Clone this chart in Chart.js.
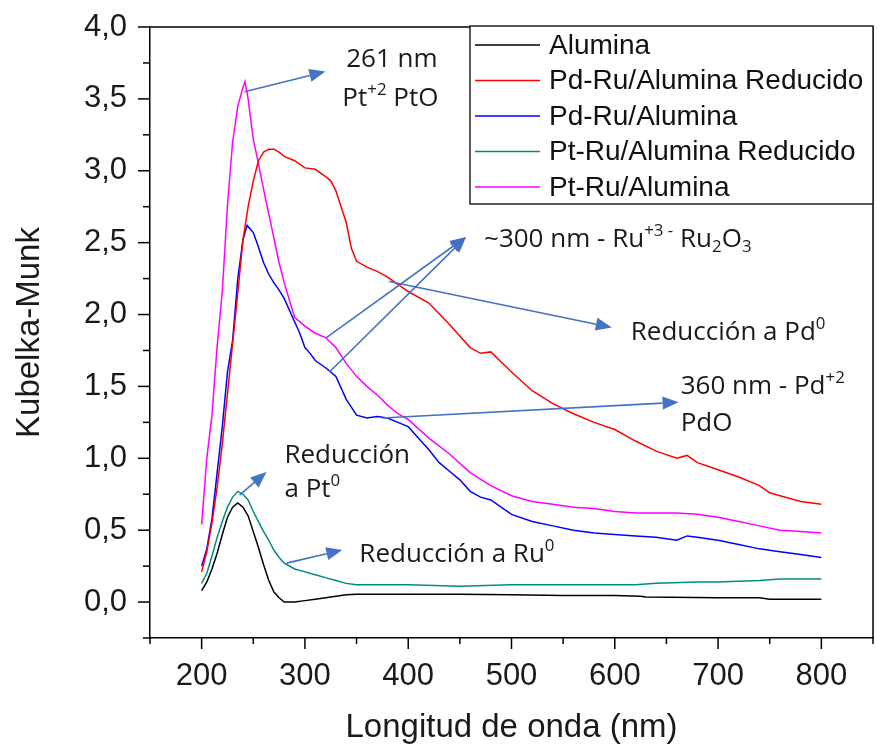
<!DOCTYPE html>
<html>
<head>
<meta charset="utf-8">
<script src="https://cdn.jsdelivr.net/npm/chart.js@4.4.1/dist/chart.umd.min.js"></script>
<style>
  body { margin: 0; background: #fff; }
</style>
</head>
<body>
<canvas id="myChart" width="877" height="748"></canvas>
<script>
// DATOS

const aluminaNm = [200, 205, 210, 215, 220, 225, 230, 235, 240, 245, 250, 255, 260, 265, 270, 275, 280, 290, 300, 310, 320, 330, 340, 350, 400, 450, 500, 550, 600, 625, 630, 700, 740, 750, 800];
const aluminaKm = [0.08, 0.14, 0.23, 0.34, 0.47, 0.59, 0.66, 0.69, 0.66, 0.60, 0.49, 0.38, 0.26, 0.15, 0.07, 0.03, 0.0, 0.0, 0.01, 0.02, 0.03, 0.04, 0.05, 0.055, 0.055, 0.055, 0.05, 0.045, 0.045, 0.04, 0.035, 0.03, 0.03, 0.02, 0.02];

const pdRuRedNm = [200, 205, 210, 215, 220, 225, 230, 235, 240, 245, 250, 255, 260, 265, 270, 275, 280, 290, 300, 310, 320, 325, 330, 335, 340, 345, 350, 360, 370, 380, 390, 400, 420, 440, 460, 470, 480, 490, 500, 520, 540, 560, 580, 600, 620, 640, 660, 670, 680, 700, 720, 740, 750, 760, 780, 800];
const pdRuRedKm = [0.21, 0.35, 0.55, 0.80, 1.10, 1.45, 1.80, 2.15, 2.52, 2.75, 2.93, 3.07, 3.13, 3.15, 3.15, 3.13, 3.10, 3.07, 3.02, 3.01, 2.96, 2.93, 2.86, 2.75, 2.64, 2.46, 2.37, 2.33, 2.30, 2.26, 2.21, 2.16, 2.08, 1.93, 1.77, 1.73, 1.74, 1.67, 1.60, 1.47, 1.38, 1.31, 1.25, 1.20, 1.12, 1.05, 1.00, 1.02, 0.97, 0.92, 0.87, 0.81, 0.76, 0.74, 0.70, 0.68];

const pdRuNm = [200, 205, 210, 215, 220, 225, 230, 235, 240, 244, 250, 255, 260, 265, 270, 275, 280, 285, 290, 295, 300, 305, 310, 320, 330, 340, 350, 360, 370, 380, 390, 400, 410, 420, 430, 440, 450, 460, 470, 480, 500, 520, 540, 560, 580, 600, 620, 640, 660, 670, 680, 700, 720, 740, 760, 780, 800];
const pdRuKm = [0.25, 0.37, 0.58, 0.90, 1.22, 1.60, 1.82, 2.25, 2.52, 2.62, 2.57, 2.47, 2.36, 2.28, 2.22, 2.17, 2.11, 2.03, 1.95, 1.87, 1.77, 1.73, 1.68, 1.63, 1.57, 1.41, 1.30, 1.28, 1.29, 1.28, 1.25, 1.22, 1.14, 1.06, 0.97, 0.91, 0.85, 0.77, 0.73, 0.71, 0.61, 0.56, 0.53, 0.50, 0.48, 0.47, 0.46, 0.45, 0.43, 0.46, 0.45, 0.43, 0.40, 0.37, 0.35, 0.33, 0.31];

const ptRuRedNm = [200, 205, 210, 215, 220, 225, 230, 235, 240, 245, 250, 255, 260, 265, 270, 275, 280, 290, 300, 310, 320, 330, 340, 350, 400, 450, 500, 550, 600, 620, 640, 680, 700, 740, 760, 800];
const ptRuRedKm = [0.13, 0.20, 0.32, 0.45, 0.56, 0.66, 0.73, 0.77, 0.75, 0.71, 0.63, 0.56, 0.49, 0.43, 0.36, 0.31, 0.27, 0.23, 0.21, 0.19, 0.17, 0.15, 0.13, 0.12, 0.12, 0.11, 0.12, 0.12, 0.12, 0.12, 0.13, 0.14, 0.14, 0.15, 0.16, 0.16];

const ptRuNm = [200, 205, 210, 215, 220, 225, 230, 235, 240, 242, 245, 250, 255, 260, 265, 270, 275, 280, 290, 300, 310, 320, 330, 340, 350, 360, 370, 380, 390, 400, 420, 440, 460, 480, 500, 520, 540, 560, 580, 600, 620, 640, 660, 680, 700, 720, 740, 760, 780, 800];
const ptRuKm = [0.54, 1.00, 1.30, 1.78, 2.16, 2.76, 3.20, 3.45, 3.58, 3.62, 3.50, 3.22, 3.05, 2.87, 2.70, 2.53, 2.36, 2.22, 1.98, 1.92, 1.87, 1.84, 1.77, 1.66, 1.57, 1.50, 1.44, 1.37, 1.31, 1.27, 1.14, 1.03, 0.90, 0.81, 0.74, 0.70, 0.68, 0.66, 0.65, 0.63, 0.62, 0.62, 0.62, 0.61, 0.59, 0.56, 0.53, 0.50, 0.49, 0.48];

const etiquetas = ['Alumina', 'Pd-Ru/Alumina Reducido', 'Pd-Ru/Alumina', 'Pt-Ru/Alumina Reducido', 'Pt-Ru/Alumina'];
const colores = ['#000000', '#ff0000', '#0000ff', '#008b80', '#ff00ff'];

// flechas: [x0, y0, x1, y1] en unidades de los ejes, la punta en (x1, y1)
const flechas = [
    [241.5, 3.55, 319.8, 3.69],
    [320.8, 1.84, 456.0, 2.54],
    [323.7, 1.60, 456.0, 2.54],
    [381.6, 2.23, 597.1, 1.91],
    [374.9, 1.28, 661.8, 1.39],
    [236.7, 0.744, 262.8, 0.904],
    [282.1, 0.271, 336.2, 0.362]
];

// textos de las notas: [x, y, partes]
const notas = [
    [340.0, 3.72, [['261 nm']]],
    [336.2, 3.45, [['Pt'], ['+2', 'sup'], [' PtO']]],
    [473.4, 2.47, [['~300 nm - Ru'], ['+3 -', 'sup'], [' Ru'], ['2', 'sub'], ['O'], ['3', 'sub']]],
    [615.5, 1.82, [['Reducción a Pd'], ['0', 'sup']]],
    [663.8, 1.45, [['360 nm - Pd'], ['+2', 'sup']]],
    [663.8, 1.19, [['PdO']]],
    [280.2, 0.97, [['Reducción']]],
    [280.2, 0.73, [['a Pt'], ['0', 'sup']]],
    [352.7, 0.28, [['Reducción a Ru'], ['0', 'sup']]]
];

function serie(nm, km) {
    return nm.map((v, i) => ({ x: v, y: km[i] }));
}

const series = [
    serie(aluminaNm, aluminaKm),
    serie(pdRuRedNm, pdRuRedKm),
    serie(pdRuNm, pdRuKm),
    serie(ptRuRedNm, ptRuRedKm),
    serie(ptRuNm, ptRuKm)
];

const data = {
    datasets: series.map((d, i) => ({
        label: etiquetas[i],
        data: d,
        borderColor: colores[i],
        backgroundColor: colores[i],
        borderWidth: 1.5,
        pointRadius: 0,
        tension: 0,
        fill: false
    }))
};

// marco, marcas de los ejes, leyenda y notas
const extras = {
    id: 'extras',
    beforeDatasetsDraw(chart) {
        const { ctx, chartArea: a, scales } = chart;
        ctx.save();
        ctx.strokeStyle = '#000';
        ctx.lineWidth = 1.5;
        ctx.beginPath();
        ctx.moveTo(a.left, a.top);
        ctx.lineTo(a.right, a.top);
        ctx.lineTo(a.right, a.bottom);
        ctx.stroke();
        // marcas del eje x
        scales.x.ticks.forEach(t => {
            const px = scales.x.getPixelForValue(t.value);
            const largo = t.value % 100 === 0 ? 11 : 6;
            ctx.beginPath();
            ctx.moveTo(px, a.bottom);
            ctx.lineTo(px, a.bottom + largo);
            ctx.stroke();
        });
        // marcas del eje y
        scales.y.ticks.forEach(t => {
            const py = scales.y.getPixelForValue(t.value);
            const mayor = Math.abs(t.value * 2 - Math.round(t.value * 2)) < 1e-6;
            const largo = mayor ? 12 : 7;
            ctx.beginPath();
            ctx.moveTo(a.left, py);
            ctx.lineTo(a.left - largo, py);
            ctx.stroke();
        });
        ctx.restore();
    },
    afterDatasetsDraw(chart) {
        const { ctx, chartArea: a, scales } = chart;
        const sx = v => scales.x.getPixelForValue(v);
        const sy = v => scales.y.getPixelForValue(v);
        ctx.save();

        // leyenda
        const bx = 470, by = a.top - 1, bw = a.right - 470, bh = 178;
        ctx.fillStyle = '#fff';
        ctx.fillRect(bx, by, bw, bh);
        ctx.strokeStyle = '#222';
        ctx.lineWidth = 1.5;
        ctx.strokeRect(bx, by, bw, bh);
        ctx.font = '28px "Liberation Sans", Arial, sans-serif';
        ctx.textBaseline = 'middle';
        ctx.textAlign = 'left';
        chart.data.datasets.forEach((ds, i) => {
            const y = by + 19 + i * 35.5;
            ctx.strokeStyle = ds.borderColor;
            ctx.lineWidth = 1.5;
            ctx.beginPath();
            ctx.moveTo(bx + 5, y);
            ctx.lineTo(bx + 70, y);
            ctx.stroke();
            ctx.fillStyle = '#111';
            ctx.fillText(ds.label, bx + 79, y + 1);
        });

        // flechas
        ctx.strokeStyle = '#4472c4';
        ctx.fillStyle = '#4472c4';
        ctx.lineWidth = 1.6;
        flechas.forEach(f => {
            const x0 = sx(f[0]), y0 = sy(f[1]), x1 = sx(f[2]), y1 = sy(f[3]);
            const ang = Math.atan2(y1 - y0, x1 - x0);
            const L = 16, W = 6.5;
            const bxp = x1 - L * Math.cos(ang), byp = y1 - L * Math.sin(ang);
            ctx.beginPath();
            ctx.moveTo(x0, y0);
            ctx.lineTo(bxp, byp);
            ctx.stroke();
            ctx.beginPath();
            ctx.moveTo(x1, y1);
            ctx.lineTo(bxp + W * Math.sin(ang), byp - W * Math.cos(ang));
            ctx.lineTo(bxp - W * Math.sin(ang), byp + W * Math.cos(ang));
            ctx.closePath();
            ctx.fill();
        });

        // textos
        const base = 26;
        ctx.fillStyle = '#1a1a1a';
        ctx.textBaseline = 'alphabetic';
        notas.forEach(n => {
            let x = sx(n[0]);
            const y = sy(n[1]);
            n[2].forEach(p => {
                let size = base, dy = 0;
                if (p[1] === 'sup') { size = base * 0.65; dy = -base * 0.42; }
                if (p[1] === 'sub') { size = base * 0.65; dy = base * 0.2; }
                ctx.font = size + 'px "Open Sans", sans-serif';
                ctx.fillText(p[0], x, y + dy);
                x += ctx.measureText(p[0]).width;
            });
        });
        ctx.restore();
    }
};

const config = {
    type: 'line',
    data: data,
    options: {
        responsive: false,
        animation: false,
        layout: {
            padding: { left: 0, top: 27, right: 4, bottom: 0 }
        },
        plugins: {
            legend: { display: false },
            tooltip: { enabled: false }
        },
        scales: {
            x: {
                type: 'linear',
                min: 150,
                max: 850,
                afterFit: s => {
                    s.height = 110;
                    s.paddingLeft = 0;
                    s.paddingRight = 0;
                },
                grid: { display: false, drawTicks: false },
                border: { display: true, color: '#000', width: 1.5 },
                ticks: {
                    stepSize: 50,
                    autoSkip: false,
                    maxRotation: 0,
                    padding: 20,
                    color: '#1a1a1a',
                    font: { family: '"Liberation Sans", Arial, sans-serif', size: 31 },
                    callback: v => (v % 100 === 0 ? String(v) : '')
                },
                title: {
                    display: true,
                    text: 'Longitud de onda (nm)',
                    color: '#1a1a1a',
                    padding: { top: 0, bottom: 0 },
                    font: { family: '"Liberation Sans", Arial, sans-serif', size: 33 }
                }
            },
            y: {
                type: 'linear',
                min: -0.25,
                max: 4.0,
                afterFit: s => {
                    s.width = 150;
                    s.paddingTop = 0;
                    s.paddingBottom = 0;
                },
                grid: { display: false, drawTicks: false },
                border: { display: true, color: '#000', width: 1.5 },
                ticks: {
                    stepSize: 0.25,
                    autoSkip: false,
                    padding: 23,
                    color: '#1a1a1a',
                    font: { family: '"Liberation Sans", Arial, sans-serif', size: 31 },
                    callback: v => {
                        const mayor = Math.abs(v * 2 - Math.round(v * 2)) < 1e-6;
                        return mayor && v >= 0 ? v.toFixed(1).replace('.', ',') : '';
                    }
                },
                title: {
                    display: true,
                    text: 'Kubelka-Munk',
                    color: '#1a1a1a',
                    padding: { top: 10, bottom: 0 },
                    font: { family: '"Liberation Sans", Arial, sans-serif', size: 33 }
                }
            }
        }
    },
    plugins: [extras]
};

const myChart = new Chart(
    document.getElementById('myChart'),
    config
);
</script>
</body>
</html>
